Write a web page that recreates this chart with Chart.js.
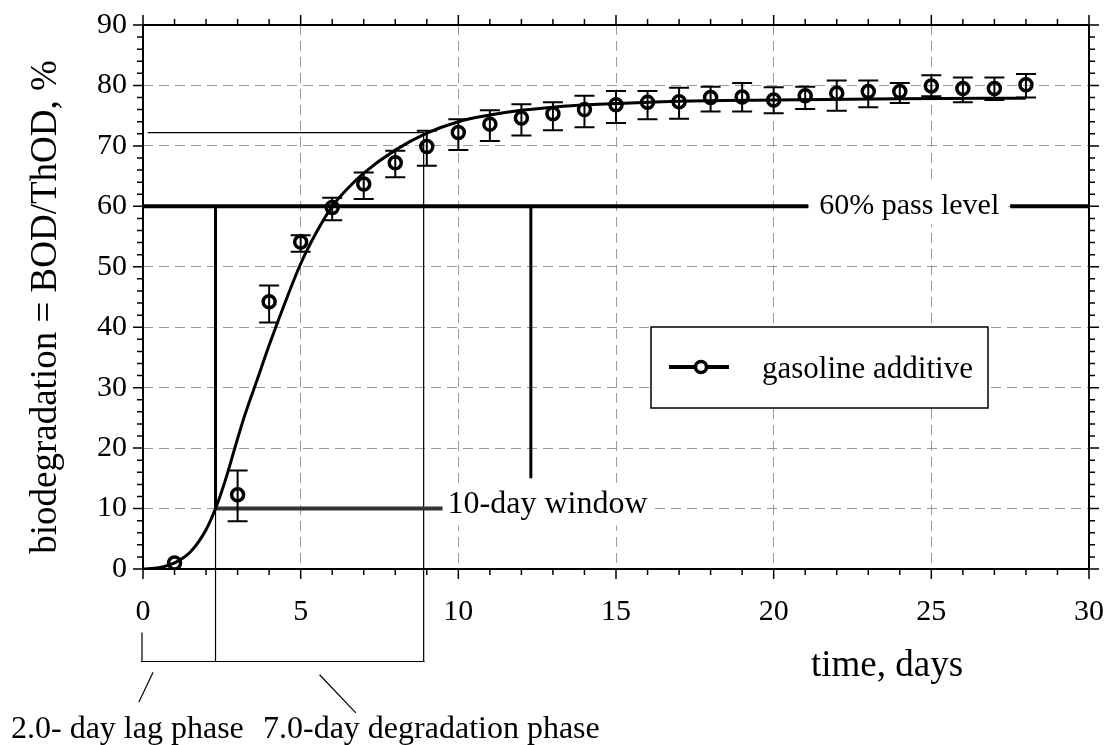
<!DOCTYPE html>
<html>
<head>
<meta charset="utf-8">
<script src="https://cdn.jsdelivr.net/npm/chart.js@4.4.0/dist/chart.umd.min.js"></script>
<style>
  html, body { margin: 0; padding: 0; background: #fff; }
  #wrap { width: 1111px; height: 745px; }
</style>
</head>
<body>
<div id="wrap"><canvas id="bodChart" width="1111" height="745"></canvas></div>
<script>
// measured points (day, mean and error bar ends, % of ThOD)
const days = [1, 3, 4, 5, 6, 7, 8, 9, 10, 11, 12, 13, 14, 15, 16, 17, 18, 19, 20, 21, 22, 23, 24, 25, 26, 27, 28];
const bodMean = [1.0, 12.3, 44.2, 54.1, 59.8, 63.7, 67.2, 69.9, 72.2, 73.6, 74.6, 75.3, 76.0, 76.8, 77.2, 77.3, 78.0, 78.1, 77.6, 78.3, 78.7, 79.0, 79.0, 79.9, 79.5, 79.5, 80.1];
const bodHigh = [1.0, 16.3, 46.9, 55.2, 61.4, 65.6, 69.2, 72.5, 74.4, 75.9, 76.9, 77.2, 78.3, 79.1, 79.1, 79.6, 79.8, 80.4, 79.7, 79.8, 80.8, 80.8, 80.4, 81.7, 81.3, 81.3, 81.9];
const bodLow = [1.0, 7.9, 40.8, 52.5, 57.7, 61.2, 64.8, 66.7, 69.3, 70.8, 71.7, 72.6, 73.1, 73.8, 74.4, 74.5, 75.7, 75.7, 75.4, 76.1, 75.8, 76.4, 77.1, 78.2, 77.2, 77.6, 78.0];

// fitted curve
const fitDays = [0, 0.5, 1, 1.5, 2, 2.3, 2.6, 2.9, 3.2, 3.6, 4, 4.5, 5, 5.5, 6, 6.5, 7, 8, 9, 10, 11, 12, 13, 14, 15, 17, 20, 24, 28];
const fitBOD = [0, 0.2, 1.0, 2.8, 6.5, 10, 14.5, 19.8, 25, 31, 37, 44, 50.5, 55.7, 60, 63, 65.5, 69.3, 72.1, 74.0, 75.1, 75.9, 76.4, 76.8, 77.0, 77.4, 77.6, 77.8, 77.9];

// axis ranges / ticks
const xRange = [0, 30], xMajor = 5, xMinor = 1;
const yRange = [0, 90], yMajor = 10, yMinor = 2;

// OECD 301 markers
const passLevel = 60;
const lagEnd = 2.3;        // 10 % reached
const degEnd = 8.9;        // 90 % of plateau
const plateau90 = 72.2;
const windowEnd = 12.3;    // lagEnd + 10 days
const bracketY = -15.3;

const serif = "'Liberation Serif', 'DejaVu Serif', serif";

const noPad = s => { s.paddingTop = 0; s.paddingBottom = 0; s.paddingLeft = 0; s.paddingRight = 0; };

const decor = {
  id: 'decor',
  beforeDatasetsDraw(chart) {
    const ctx = chart.ctx, xs = chart.scales.x, ys = chart.scales.y;
    const px = v => xs.getPixelForValue(v), py = v => ys.getPixelForValue(v);
    const seg = (x1, y1, x2, y2, w, c) => {
      ctx.save(); ctx.lineWidth = w; ctx.strokeStyle = c || '#000'; ctx.setLineDash([]);
      ctx.beginPath(); ctx.moveTo(x1, y1); ctx.lineTo(x2, y2); ctx.stroke(); ctx.restore();
    };
    // thin guides
    seg(px(0.15), py(plateau90), px(degEnd), py(plateau90), 1.2);
    seg(px(lagEnd), py(10), px(lagEnd), py(bracketY), 1.2);
    seg(px(degEnd), py(plateau90), px(degEnd), py(bracketY), 1.2);
    // 10 % line and window
    seg(px(lagEnd), py(10), px(9.5), py(10), 4, '#333');
    seg(px(lagEnd), py(10), px(lagEnd), py(passLevel), 3);
    seg(px(windowEnd), py(15), px(windowEnd), py(passLevel), 3);
    // 60 % pass level with label gap
    seg(px(0), py(passLevel), px(21.1), py(passLevel), 4);
    seg(px(27.5), py(passLevel), px(30), py(passLevel), 4);
    ctx.save();
    ctx.font = '30px ' + serif;
    ctx.fillStyle = '#fff';
    ctx.fillRect(px(21.1) + 2, py(passLevel) - 22, px(27.5) - px(21.1) - 4, 40);
    ctx.fillStyle = '#000';
    ctx.textAlign = 'center'; ctx.textBaseline = 'alphabetic';
    ctx.fillText('60% pass level', (px(21.1) + px(27.5)) / 2, py(passLevel) + 8);
    ctx.font = '32px ' + serif;
    const w = ctx.measureText('10-day window').width;
    ctx.fillStyle = '#fff';
    ctx.fillRect(px(9.5) + 2, py(10) - 25, w + 8, 42);
    ctx.fillStyle = '#000';
    ctx.textAlign = 'left';
    ctx.fillText('10-day window', px(9.5) + 5, py(10) + 4);
    ctx.restore();
    // bracket below axis
    seg(px(0) - 2, py(bracketY), px(degEnd) + 1, py(bracketY), 1.2);
    seg(px(0) - 1, py(-10.5), px(0) - 1, py(bracketY), 1.2);
    seg(px(0.32), py(-17.1), px(-0.13), py(-22), 1.2);
    seg(px(5.6), py(-17.5), px(6.75), py(-23.8), 1.2);
  },
  afterDatasetsDraw(chart) {
    const ctx = chart.ctx, xs = chart.scales.x, ys = chart.scales.y, a = chart.chartArea;
    const px = v => xs.getPixelForValue(v), py = v => ys.getPixelForValue(v);
    ctx.save();
    ctx.setLineDash([]);
    ctx.strokeStyle = '#000';
    // error bars
    ctx.lineWidth = 2;
    days.forEach((d, i) => {
      if (bodHigh[i] === bodLow[i]) return;
      const x = px(d), t = py(bodHigh[i]), b = py(bodLow[i]);
      ctx.beginPath();
      ctx.moveTo(x, t); ctx.lineTo(x, b);
      ctx.moveTo(x - 10, t); ctx.lineTo(x + 10, t);
      ctx.moveTo(x - 10, b); ctx.lineTo(x + 10, b);
      ctx.stroke();
    });
    // frame
    ctx.lineWidth = 2;
    ctx.strokeRect(a.left, a.top, a.right - a.left, a.bottom - a.top);
    // tick marks on all four sides
    ctx.lineWidth = 1.5;
    ctx.beginPath();
    for (let v = xRange[0]; v <= xRange[1]; v += xMinor) {
      const L = v % xMajor === 0 ? 10 : 6, x = px(v);
      ctx.moveTo(x, a.bottom); ctx.lineTo(x, a.bottom + L);
      ctx.moveTo(x, a.top); ctx.lineTo(x, a.top - L);
    }
    for (let v = yRange[0]; v <= yRange[1]; v += yMinor) {
      const L = v % yMajor === 0 ? 10 : 6, y = py(v);
      ctx.moveTo(a.left, y); ctx.lineTo(a.left - L, y);
      ctx.moveTo(a.right, y); ctx.lineTo(a.right + L, y);
    }
    ctx.stroke();
    // legend
    ctx.fillStyle = '#fff';
    ctx.fillRect(651, 327, 337, 81);
    ctx.lineWidth = 1.5;
    ctx.strokeRect(651, 327, 337, 81);
    ctx.lineWidth = 4;
    ctx.beginPath(); ctx.moveTo(669, 367); ctx.lineTo(729, 367); ctx.stroke();
    ctx.lineWidth = 3.5;
    ctx.beginPath(); ctx.arc(701, 367, 5.5, 0, Math.PI * 2); ctx.fill(); ctx.stroke();
    ctx.fillStyle = '#000';
    ctx.font = '31px ' + serif;
    ctx.textAlign = 'left'; ctx.textBaseline = 'alphabetic';
    ctx.fillText('gasoline additive', 762, 378);
    // axis titles
    ctx.font = '37px ' + serif;
    ctx.fillText('time, days', 811, 676);
    ctx.save();
    ctx.translate(56, 307);
    ctx.rotate(-Math.PI / 2);
    ctx.textAlign = 'center';
    ctx.fillText('biodegradation = BOD/ThOD, %', 0, 0);
    ctx.restore();
    // phase captions
    ctx.font = '32px ' + serif;
    ctx.fillText('2.0- day lag phase', 11, 738);
    ctx.fillText('7.0-day degradation phase', 263, 738);
    ctx.restore();
  }
};

const ctx = document.getElementById('bodChart').getContext('2d');
const bodChart = new Chart(ctx, {
  type: 'scatter',
  data: {
    datasets: [
      {
        label: 'fit',
        type: 'line',
        data: fitDays.map((d, i) => ({ x: d, y: fitBOD[i] })),
        borderColor: '#000',
        borderWidth: 3,
        pointRadius: 0,
        fill: false,
        cubicInterpolationMode: 'monotone'
      },
      {
        label: 'gasoline additive',
        data: days.map((d, i) => ({ x: d, y: bodMean[i] })),
        pointStyle: 'circle',
        pointRadius: 6,
        pointBorderWidth: 3.5,
        pointBorderColor: '#000',
        pointBackgroundColor: 'rgba(255,255,255,0)'
      }
    ]
  },
  options: {
    responsive: false,
    animation: false,
    devicePixelRatio: 1,
    layout: { padding: { left: 0, top: 25, right: 22, bottom: 0 } },
    plugins: { legend: { display: false }, tooltip: { enabled: false } },
    scales: {
      x: {
        type: 'linear', min: xRange[0], max: xRange[1],
        afterFit: s => { s.height = 176; noPad(s); },
        ticks: { stepSize: xMajor, color: '#000', padding: 25, font: { family: serif, size: 30 } },
        grid: { color: '#9a9a9a', lineWidth: 1, drawTicks: false },
        border: { display: false, dash: [10, 6] }
      },
      y: {
        type: 'linear', min: yRange[0], max: yRange[1],
        afterFit: s => { s.width = 143; noPad(s); },
        ticks: { stepSize: yMajor, color: '#000', padding: 16, font: { family: serif, size: 30 } },
        grid: { color: '#9a9a9a', lineWidth: 1, drawTicks: false },
        border: { display: false, dash: [10, 6] }
      }
    }
  },
  plugins: [decor]
});
</script>
</body>
</html>
